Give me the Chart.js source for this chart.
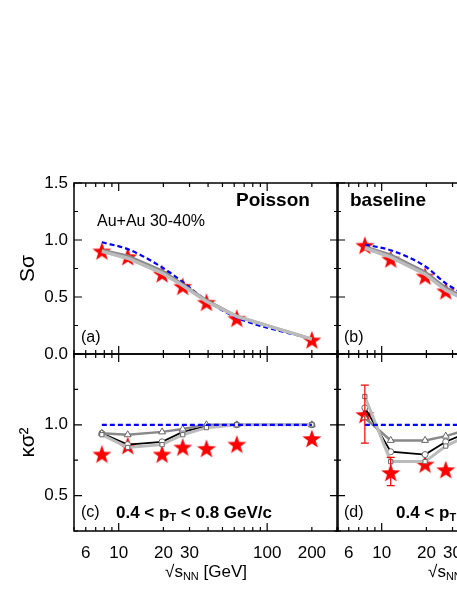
<!DOCTYPE html>
<html><head><meta charset="utf-8">
<script src="https://cdn.jsdelivr.net/npm/chart.js@4"></script>
<style>html,body{margin:0;padding:0;width:457px;height:591px;overflow:hidden;background:#fff}
canvas{position:absolute;left:0;top:0}</style></head>
<body>
<canvas id="ca" width="620" height="591"></canvas>
<canvas id="cb" width="620" height="591"></canvas>
<canvas id="cc" width="620" height="591"></canvas>
<canvas id="cd" width="620" height="591"></canvas>
<script>
const energies=[7.7,11.5,19.6,27,39,62.4,200];
const xTickLabels=[6,10,20,30,100,200];
const ssTicks=['0.0','0.5','1.0','1.5'];
const ksTicks=['0.5','1.0'];
// panel (a) S sigma, Poisson
const aStar=[0.90,0.85,0.70,0.59,0.45,0.31,0.12];
const aBlue=[0.98,0.92,0.76,0.63,0.47,0.32,0.13];
const aGray=[0.91,0.86,0.73,0.61,0.47,0.33,0.13];
const aBlack=[0.90,0.85,0.72,0.60,0.47,0.33,0.13];
const aLight=[0.90,0.84,0.71,0.60,0.46,0.33,0.13];
// panel (b) S sigma, baseline
const bStar=[0.95,0.83,0.68,0.55,0.45,0.31,0.12];
const bBlue=[0.96,0.91,0.77,0.62,0.50,0.34,0.14];
const bGray=[0.94,0.87,0.72,0.58,0.47,0.33,0.13];
const bBlack=[0.93,0.86,0.71,0.57,0.46,0.32,0.13];
const bLight=[0.93,0.85,0.70,0.56,0.46,0.32,0.13];
// panel (c) kappa sigma^2, Poisson
const cStar=[0.79,0.85,0.79,0.84,0.83,0.86,0.90];
const cBlue=[1,1,1,1,1,1,1];
const cTri=[0.94,0.93,0.95,0.97,1.0,1.0,1.0];
const cBlack=[0.94,0.86,0.88,0.95,0.99,1.0,1.0];
const cLight=[0.93,0.84,0.86,0.93,0.98,1.0,1.0];
// panel (d) kappa sigma^2, baseline
const dStar=[1.07,0.66,0.72,0.68,0.80,0.88,0.95];
const dErrLo=[0.87,0.57,null,null,null,null,null];
const dErrHi=[1.28,0.77,null,null,null,null,null];
const dBlue=[1,1,1,1,1,1,1];
const dTri=[1.05,0.89,0.89,0.92,0.97,1.0,1.0];
const dBlack=[1.12,0.81,0.79,0.88,0.95,0.99,1.0];
const dLight=[1.20,0.74,0.74,0.85,0.93,0.98,1.0];

const starImg=document.createElement('canvas');starImg.width=20;starImg.height=20;
(function(){const g=starImg.getContext('2d');g.beginPath();
for(let i=0;i<10;i++){const r=i%2?4:10;const a=-Math.PI/2+i*Math.PI/5;g.lineTo(10+r*Math.cos(a),10.5+r*Math.sin(a));}
g.closePath();g.fillStyle='#ff0000';g.fill();})();

const FONT='"Liberation Sans", Arial, sans-serif';
const W=620,H=591;
function pts(v){return energies.map((x,i)=>({x:x,y:v[i]}));}
function run(g,segs,x,y){segs.forEach(([s,f,dy])=>{g.font=f+' '+FONT;g.textAlign='left';g.fillText(s,x,y+(dy||0));x+=g.measureText(s).width;});}
function mk(id,rect,ymin,ymax,ds,opt){
  const plugin={id:'deco'+id,
   beforeDatasetsDraw(ch){
     const g=ch.ctx,ca=ch.chartArea,xs=ch.scales.x,ys=ch.scales.y;
     g.save();g.strokeStyle='#000';g.lineWidth=1.5;
     g.strokeRect(ca.left,ca.top,ca.right-ca.left,ca.bottom-ca.top);
     g.lineWidth=1.2;
     const xt=[];for(let d=1;d<=100;d*=10)for(let k=1;k<10;k++){const v=k*d;if(v>=5&&v<=300)xt.push([v,k==1]);}
     xt.forEach(([v,maj])=>{const p=xs.getPixelForValue(v),L=maj?8:4;g.beginPath();
       g.moveTo(p,ca.bottom);g.lineTo(p,ca.bottom-L);g.moveTo(p,ca.top);g.lineTo(p,ca.top+L);g.stroke();});
     for(let v=Math.ceil(ymin*4)/4;v<=ymax+1e-9;v+=0.25){const maj=Math.abs(v*2-Math.round(v*2))<1e-6;const p=ys.getPixelForValue(v),L=maj?8:4;
       g.beginPath();g.moveTo(ca.left,p);g.lineTo(ca.left+L,p);g.moveTo(ca.right,p);g.lineTo(ca.right-L,p);g.stroke();}
     g.restore();
   },
   afterDatasetsDraw(ch){
     const g=ch.ctx,ca=ch.chartArea,xs=ch.scales.x,ys=ch.scales.y;g.save();
     if(opt.err){g.strokeStyle='#ff0000';g.lineWidth=1.2;
       opt.err[0].forEach((lo,i)=>{if(lo==null)return;const hi=opt.err[1][i];const p=xs.getPixelForValue(energies[i]);
         const a=ys.getPixelForValue(lo),b=ys.getPixelForValue(hi);g.beginPath();g.moveTo(p,a);g.lineTo(p,b);
         g.moveTo(p-4,a);g.lineTo(p+4,a);g.moveTo(p-4,b);g.lineTo(p+4,b);g.stroke();});}
     g.fillStyle='#000';g.textBaseline='middle';
     if(opt.yTicks){g.font='17px '+FONT;g.textAlign='right';
       opt.yTicks.forEach(t=>g.fillText(t,ca.left-6,ys.getPixelForValue(parseFloat(t))));}
     if(opt.xTicks){g.font='17px '+FONT;g.textAlign='center';
       xTickLabels.forEach(v=>g.fillText(String(v),xs.getPixelForValue(v),ca.bottom+22));
       const cx=(ca.left+ca.right)/2,y=ca.bottom+41;
       const t1='\u221As',t3=' [GeV]';g.font='17px '+FONT;const w1=g.measureText(t1).width,w3=g.measureText(t3).width;
       g.font='11px '+FONT;const w2=g.measureText('NN').width;
       run(g,[[t1,'17px'],['NN','11px',5],[t3,'17px']],cx-(w1+w2+w3)/2,y);}
     if(opt.texts)opt.texts.forEach(t=>run(g,t.segs,t.x,t.y));
     if(opt.ttl){g.save();g.translate(28,(ca.top+ca.bottom)/2);g.rotate(-Math.PI/2);g.font='21px '+FONT;g.textAlign='center';
       g.fillText(opt.ttl,0,0);g.restore();}
     g.restore();}
  };
  new Chart(document.getElementById(id),{type:'line',
   data:{datasets:ds},
   options:{responsive:false,animation:false,events:[],
    layout:{padding:{left:rect[0],top:rect[1],right:W-rect[2],bottom:H-rect[3]}},
    plugins:{legend:{display:false},tooltip:{enabled:false}},
    scales:{x:{type:'logarithmic',min:5,max:300,display:false},y:{min:ymin,max:ymax,display:false}}},
   plugins:[plugin]});
}
function lineDs(v,color,w,ps,r){return {data:pts(v),borderColor:color,borderWidth:w,pointStyle:ps||false,pointRadius:ps?(r||3.5):0,
  pointBackgroundColor:'#fff',pointBorderColor:ps?'#666':color,pointBorderWidth:1,tension:0};}
function blueDs(v,smooth){return {data:pts(v),borderColor:'#0000ff',borderWidth:2.2,borderDash:[5,3],pointRadius:0,tension:smooth?0.4:0,cubicInterpolationMode:smooth?'monotone':'default'};}
function starDs(v){return {data:pts(v),showLine:false,pointStyle:starImg,pointRadius:10};}
const pT=(x)=>[['0.4 < p','bold 17px'],['T','bold 11px',5],[' < 0.8 GeV/c','bold 17px']];

mk('ca',[74,183,338,354],0,1.5,[lineDs(aLight,'#bbbbbb',3.5),lineDs(aGray,'#888888',3),lineDs(aBlack,'#000',1.2),blueDs(aBlue,true),starDs(aStar)],
 {yTicks:ssTicks,ttl:'S\u03C3',texts:[{segs:[['Poisson','bold 19px']],x:236,y:201},{segs:[['Au+Au 30-40%','16px']],x:97,y:222},{segs:[['(a)','16px']],x:81,y:338}]});
mk('cb',[337,183,601,354],0,1.5,[lineDs(bLight,'#bbbbbb',3.5),lineDs(bGray,'#888888',3),lineDs(bBlack,'#000',1.2),blueDs(bBlue,true),starDs(bStar)],
 {texts:[{segs:[['baseline','bold 19px']],x:350,y:201},{segs:[['(b)','16px']],x:344,y:338}]});
mk('cc',[74,354,338,531],0.25,1.5,[blueDs(cBlue,false),lineDs(cLight,'#bbbbbb',3,'rect',3),lineDs(cTri,'#888888',2.5,'triangle',4),lineDs(cBlack,'#000',1.8,'circle',3),starDs(cStar)],
 {yTicks:ksTicks,xTicks:true,ttl:'\u03BA\u03C3\u00B2',texts:[{segs:[['(c)','16px']],x:81,y:513},{segs:pT(),x:116,y:513}]});
mk('cd',[337,354,601,531],0.25,1.5,[blueDs(dBlue,false),lineDs(dLight,'#bbbbbb',3,'rect',3),lineDs(dTri,'#888888',2.5,'triangle',4),lineDs(dBlack,'#000',1.8,'circle',3),starDs(dStar)],
 {xTicks:true,err:[dErrLo,dErrHi],texts:[{segs:[['(d)','16px']],x:344,y:513},{segs:pT(),x:396,y:513}]});
</script></body></html>
